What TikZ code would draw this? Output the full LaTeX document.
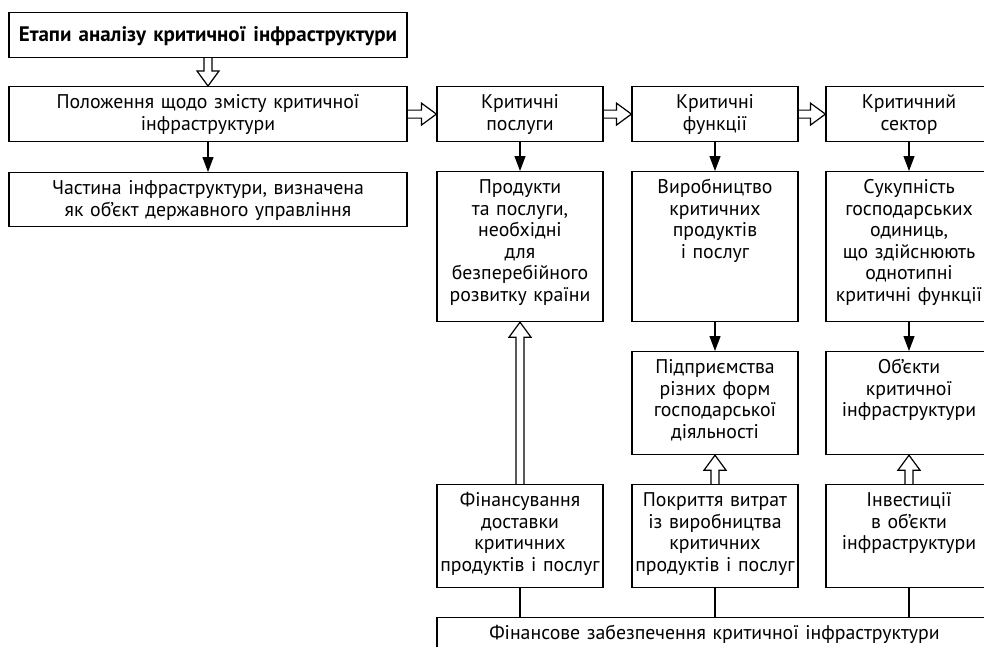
\documentclass[tikz,border=0pt]{standalone}
\usepackage{fontspec}
\setmainfont{PT Sans}
\usetikzlibrary{arrows.meta, calc}
\tikzstyle{block} = [draw, line width=1.2pt, anchor=north, align=center, inner xsep=1pt, inner ysep=4pt, text height=18pt, font=\fontsize{19.8}{21.5}\selectfont]
\tikzstyle{wide} = [block, text width=396pt]
\tikzstyle{column} = [block, text width=164pt]
\tikzstyle{arrow} = [line width=1.2pt, -{Triangle[length=15pt,width=11pt]}]
\tikzstyle{link} = [line width=1.2pt]
\tikzstyle{hollow} = [line width=1.2pt, line join=miter, to path={let \p1=(\tikztostart), \p2=(\tikztotarget), \n1={atan2(\y2-\y1,\x2-\x1)}, \n2={veclen(\x2-\x1,\y2-\y1)} in [shift={(\p1)}, rotate=\n1] (0pt,-4pt) -- (\n2-15pt,-4pt) -- (\n2-15pt,-11pt) -- (\n2,0pt) -- (\n2-15pt,11pt) -- (\n2-15pt,4pt) -- (0pt,4pt)}]

\begin{document}
\begin{tikzpicture}[x=1pt, y=-1pt]
\clip (0,0) rectangle (984,646);

\node[wide, text height=25pt, text depth=12pt, font=\fontsize{21}{22}\selectfont\bfseries] (etapy) at (208,12) {Етапи аналізу критичної інфраструктури};
\node[wide, text depth=29pt] (polozhennia) at (208,86) {Положення щодо змісту критичної\\інфраструктури};
\node[wide, text depth=28pt] (chastyna) at (208,172) {Частина інфраструктури, визначена\\як об’єкт державного управління};

\node[column, text depth=29pt] (posluhy) at (520,86) {Критичні\\послуги};
\node[column, text depth=29pt] (funktsii) at (715,86) {Критичні\\функції};
\node[column, text depth=29pt] (sektor) at (909,86) {Критичний\\сектор};

\node[column, text depth=124pt] (produkty) at (520,171) {Продукти\\та послуги,\\необхідні\\для\\безперебійного\\розвитку країни};
\node[column, text depth=124pt] (vyrobnytstvo) at (715,171) {Виробництво\\критичних\\продуктів\\і послуг};
\node[column, text depth=124pt] (sukupnist) at (909,171) {Сукупність\\господарських\\одиниць,\\що здійснюють\\однотипні\\критичні функції};

\node[column, text depth=77pt] (pidpryiemstva) at (715,351) {Підприємства\\різних форм\\господарської\\діяльності};
\node[column, text depth=77pt] (obiekty) at (909,351) {Об’єкти\\критичної\\інфраструктури};

\node[column, text depth=77pt] (finansuvannia) at (520,484) {Фінансування\\доставки\\критичних\\продуктів і послуг};
\node[column, text depth=77pt] (pokryttia) at (715,484) {Покриття витрат\\із виробництва\\критичних\\продуктів і послуг};
\node[column, text depth=77pt] (investytsii) at (909,484) {Інвестиції\\в об’єкти\\інфраструктури};

\node[block, text width=553pt, text depth=14pt] (zabezpechennia) at (714.5,617) {Фінансове забезпечення критичної інфраструктури};

\draw[hollow] (etapy.south) to (polozhennia.north);
\draw[hollow] (polozhennia.east) to (posluhy.west);
\draw[hollow] (posluhy.east) to (funktsii.west);
\draw[hollow] (funktsii.east) to (sektor.west);

\draw[arrow] (polozhennia.south) -- (chastyna.north);
\draw[arrow] (posluhy.south) -- (produkty.north);
\draw[arrow] (funktsii.south) -- (vyrobnytstvo.north);
\draw[arrow] (sektor.south) -- (sukupnist.north);
\draw[arrow] (vyrobnytstvo.south) -- (pidpryiemstva.north);
\draw[arrow] (sukupnist.south) -- (obiekty.north);

\draw[hollow] (finansuvannia.north) to (produkty.south);
\draw[hollow] (pokryttia.north) to (pidpryiemstva.south);
\draw[hollow] (investytsii.north) to (obiekty.south);

\draw[link] (finansuvannia.south) -- (finansuvannia.south |- zabezpechennia.north);
\draw[link] (pokryttia.south) -- (pokryttia.south |- zabezpechennia.north);
\draw[link] (investytsii.south) -- (investytsii.south |- zabezpechennia.north);
\end{tikzpicture}
\end{document}
